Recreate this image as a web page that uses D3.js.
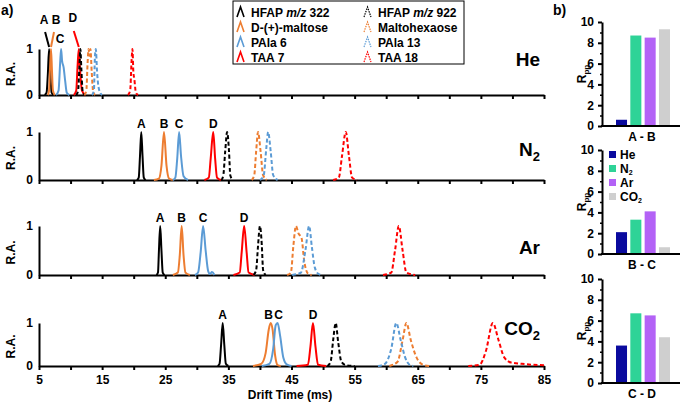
<!DOCTYPE html>
<html><head><meta charset="utf-8">
<script src="https://cdn.jsdelivr.net/npm/d3@7"></script>
<style>
html,body{margin:0;padding:0;background:#fff;}
text{font-family:"Liberation Sans",Arial,sans-serif;font-weight:bold;fill:#000;}
</style></head>
<body>
<svg id="c" width="685" height="406"></svg>
<script>
// ---------- DATA ----------
const gases = ["He", "N2", "Ar", "CO2"];
const xTicks = [5,10,15,20,25,30,35,40,45,50,55,60,65,70,75,80,85];
const xTickLabels = [5,15,25,35,45,55,65,75,85];
const seriesNames = ["HFAP m/z 322","D-(+)-maltose","PAla 6","TAA 7","HFAP m/z 922","Maltohexaose","PAla 13","TAA 18"];
const seriesColors = ["#000000","#ed7d31","#5b9bd5","#ff0000","#000000","#ed7d31","#5b9bd5","#ff0000"];
const seriesDashed = [false,false,false,false,true,true,true,true];

// peak traces [drift time ms, relative abundance], per gas (He, N2, Ar, CO2)
const hfap322 = [
  [[5.9,0],[6.2,0.05],[6.4,0.45],[6.6,1],[6.8,0.45],[7.0,0.05],[7.3,0]],
  [[20.5,0],[20.8,0.05],[21.0,0.5],[21.2,1],[21.4,0.5],[21.6,0.05],[21.9,0]],
  [[23.6,0],[23.85,0.05],[24.0,0.5],[24.2,1],[24.4,0.5],[24.6,0.05],[24.9,0]],
  [[33.3,0],[33.6,0.05],[33.85,0.5],[34.1,1],[34.35,0.5],[34.6,0.05],[35.0,0]]
];
const maltose = [
  [[6.4,0],[6.6,0.1],[6.75,0.6],[6.9,1],[7.05,0.55],[7.2,0.1],[7.5,0]],
  [[23.2,0],[24.0,0.03],[24.4,0.3],[24.8,1],[25.2,0.3],[25.6,0.03],[26.2,0]],
  [[26.2,0],[27.0,0.05],[27.3,0.4],[27.6,1],[27.9,0.4],[28.2,0.05],[28.9,0]],
  [[38.9,0],[40.2,0.05],[40.9,0.3],[41.4,0.85],[41.7,1],[42.0,0.85],[42.4,0.25],[42.8,0.02],[43.3,0]]
];
const pala6 = [
  [[7.7,0],[8.1,0.1],[8.35,0.7],[8.5,1],[8.65,0.75],[8.9,0.6],[9.15,0.3],[9.4,0.05],[9.8,0]],
  [[26.2,0],[26.6,0.05],[26.9,0.45],[27.2,1],[27.5,0.5],[27.9,0.08],[28.6,0]],
  [[29.7,0],[30.2,0.05],[30.6,0.45],[31.0,1],[31.4,0.5],[31.8,0.08],[32.1,0.02],[32.4,0.06],[32.8,0]],
  [[40.3,0],[41.5,0.05],[42.1,0.4],[42.5,0.95],[42.8,1],[43.2,0.7],[43.7,0.2],[44.3,0.03],[45.0,0]]
];
const taa7 = [
  [[10.5,0],[10.9,0.1],[11.1,0.6],[11.3,1],[11.5,0.55],[11.8,0.1],[12.3,0]],
  [[31.2,0],[31.9,0.05],[32.2,0.45],[32.6,1],[32.9,0.45],[33.2,0.05],[33.8,0]],
  [[35.8,0],[36.8,0.05],[37.1,0.45],[37.5,1],[37.9,0.45],[38.2,0.05],[39.2,0]],
  [[45.8,0],[47.6,0.03],[48.0,0.45],[48.4,1],[48.8,0.45],[49.2,0.03],[50.5,0]]
];
const hfap922 = [
  [[10.9,0],[11.2,0.1],[11.4,0.6],[11.55,1],[11.7,0.6],[11.9,0.1],[12.2,0]],
  [[33.9,0],[34.2,0.1],[34.5,0.6],[34.8,1],[35.1,0.6],[35.3,0.1],[35.7,0]],
  [[39.0,0],[39.4,0.1],[39.7,0.6],[40.0,1],[40.3,0.6],[40.5,0.1],[40.9,0]],
  [[50.7,0],[51.2,0.1],[51.6,0.6],[52.0,1],[52.4,0.55],[52.9,0.1],[53.6,0.02],[55.0,0]]
];
const maltohexaose = [
  [[12.2,0],[12.5,0.1],[12.7,0.7],[12.85,1],[13.0,0.85],[13.15,1],[13.35,0.5],[13.6,0.05],[13.9,0]],
  [[38.7,0],[39.1,0.1],[39.4,0.6],[39.7,1],[40.1,0.6],[40.5,0.1],[41.1,0]],
  [[44.3,0],[44.9,0.05],[45.3,0.6],[45.7,1],[46.1,0.85],[46.6,0.75],[47.0,0.3],[47.6,0.03],[48.2,0]],
  [[60.5,0],[61.8,0.1],[62.6,0.6],[63.2,1],[63.9,0.6],[64.8,0.2],[65.8,0.03],[66.8,0]]
];
const pala13 = [
  [[13.4,0],[13.7,0.1],[13.85,0.8],[14.0,1],[14.2,0.5],[14.4,0.2],[14.7,0.05],[15.0,0]],
  [[40.0,0],[40.6,0.1],[41.0,0.65],[41.3,1],[41.7,0.6],[42.1,0.1],[42.8,0]],
  [[45.1,0],[46.5,0.05],[47.2,0.5],[47.8,1],[48.2,0.6],[48.7,0.15],[49.3,0.02],[49.8,0]],
  [[58.7,0],[59.8,0.05],[60.8,0.4],[61.6,1],[62.3,0.6],[63.0,0.2],[63.7,0.03],[64.3,0]]
];
const taa18 = [
  [[19.1,0],[19.45,0.1],[19.65,0.7],[19.8,1],[19.95,0.5],[20.1,0.35],[20.35,0.05],[20.7,0]],
  [[51.6,0],[52.5,0.05],[53.0,0.5],[53.6,1],[54.1,0.5],[54.6,0.05],[55.4,0]],
  [[59.5,0],[60.8,0.05],[61.4,0.5],[62.0,1],[62.6,0.5],[63.2,0.05],[64.6,0]],
  [[73.0,0],[74.8,0.03],[75.8,0.35],[76.9,1],[77.8,0.6],[78.7,0.2],[79.8,0.08],[81.5,0.05],[83.0,0.03],[85.0,0.02]]
];
const allSeries = [hfap322, maltose, pala6, taa7, hfap922, maltohexaose, pala13, taa18];

// peak labels: which series (A=HFAP 322, B=maltose, C=PAla 6, D=TAA 7)
const peakLabels = ["A","B","C","D"];

// Rpp resolution bar charts
const pairs = ["A - B", "B - C", "C - D"];
const rppHe  = [0.6, 2.1, 3.6];
const rppN2  = [8.7, 3.3, 6.7];
const rppAr  = [8.5, 4.1, 6.5];
const rppCO2 = [9.3, 0.65, 4.4];
const gasColors = ["#0a0a9e", "#2ed397", "#b362f6", "#cfcfcf"];
const rppTicks = [0,2,4,6,8,10];
const rppMinor = [1,3,5,7,9];

// ---------- LAYOUT ----------
const svg = d3.select("#c");
const x = d3.scaleLinear().domain([5,85]).range([39,544]);
const panels = [{top:49,bottom:95},{top:132,bottom:180},{top:226,bottom:275},{top:323,bottom:366}];
const gasLabelY = [66, 156, 254, 335];

const line = d3.line().curve(d3.curveMonotoneX);

panels.forEach((p, gi) => {
  const y = d3.scaleLinear().domain([0,1]).range([p.bottom, p.top]);
  const g = svg.append("g");
  const isLast = gi === panels.length - 1;
  const xa = d3.axisBottom(x).tickValues(xTicks).tickSize(4).tickSizeOuter(0).tickPadding(5)
    .tickFormat(d => (isLast && xTickLabels.includes(d)) ? d : "");
  const gx = g.append("g").attr("transform", `translate(0,${p.bottom})`).call(xa);
  gx.select(".domain").attr("stroke-width", 2);
  gx.selectAll(".tick line").attr("stroke-width", 2);
  gx.selectAll("text").style("font-size","12px").style("font-family","Liberation Sans, Arial, sans-serif").style("font-weight","bold");
  const ya = d3.axisLeft(y).tickValues([0,1]).tickSize(0).tickPadding(6).tickFormat(d3.format("d"));
  const gy = g.append("g").attr("transform", `translate(${x(5)},0)`).call(ya);
  gy.select(".domain").attr("stroke-width", 2);
  gy.selectAll("text").style("font-size","12px").style("font-family","Liberation Sans, Arial, sans-serif").style("font-weight","bold");
  g.append("text").attr("transform", `translate(15,${(p.top+p.bottom)/2+2}) rotate(-90)`)
    .attr("text-anchor","middle").style("font-size","12px").text("R.A.");

  allSeries.forEach((s, si) => {
    g.append("path")
      .attr("d", line(s[gi].map(d => [x(d[0]), y(d[1])])))
      .attr("fill","none").attr("stroke", seriesColors[si]).attr("stroke-width", 2)
      .attr("stroke-linejoin","round")
      .attr("stroke-dasharray", seriesDashed[si] ? "4,2.5" : null);
  });

  const gl = g.append("text").attr("x", 540).attr("y", gasLabelY[gi]).attr("text-anchor","end").style("font-size","19px");
  const gname = gases[gi];
  const m = gname.match(/^([A-Za-z]+)(\d?)$/);
  gl.append("tspan").text(m[1]);
  if (m[2]) gl.append("tspan").attr("dy", 5).style("font-size","13px").text(m[2]);

  const peakTop = (si) => {
    const pts = allSeries[si][gi];
    const mx = pts.reduce((a,b) => b[1] > a[1] ? b : a);
    return mx[0];
  };
  if (gi === 0) {
    const offs = [[-5,-25,-4,-17],[5,-25,3,-17],[-1,-6,null,null],[-6,-27,-5,-18]];
    peakLabels.forEach((L, si) => {
      const px = x(peakTop(si));
      const o = offs[si];
      g.append("text").attr("x", px + o[0]).attr("y", p.top + o[1]).attr("text-anchor","middle").style("font-size","12px").text(L);
      if (o[2] !== null) {
        g.append("line").attr("x1", px + o[2]).attr("y1", p.top + o[3]).attr("x2", px).attr("y2", p.top - 2)
          .attr("stroke", seriesColors[si]).attr("stroke-width", 2);
      }
    });
  } else {
    peakLabels.forEach((L, si) => {
      let px = x(peakTop(si));
      if (gi === 3 && si === 1) px -= 2;
      if (gi === 3 && si === 2) px += 1;
      g.append("text").attr("x", px).attr("y", p.top - 4).attr("text-anchor","middle").style("font-size","12px").text(L);
    });
  }
});

svg.append("text").attr("x", 290).attr("y", 399).attr("text-anchor","middle").style("font-size","12px").text("Drift Time (ms)");
svg.append("text").attr("x", 1).attr("y", 15).style("font-size","14px").text("a)");
svg.append("text").attr("x", 553).attr("y", 15).style("font-size","14px").text("b)");

// legend
const lg = svg.append("g");
lg.append("rect").attr("x", 233).attr("y", 1).attr("width", 231).attr("height", 63).attr("fill","#fff").attr("stroke","#000").attr("stroke-width",1);
seriesNames.forEach((n, i) => {
  const col = i < 4 ? 0 : 1;
  const row = i % 4;
  const ix = col === 0 ? 237 : 364;
  const cy = 12 + row * 15;
  lg.append("path").attr("d", `M${ix},${cy+5}L${ix+3.5},${cy-5}L${ix+7},${cy+5}`)
    .attr("fill","none").attr("stroke", seriesColors[i]).attr("stroke-width", seriesDashed[i] ? 1.2 : 1.6)
    .attr("stroke-dasharray", seriesDashed[i] ? "1.5,1" : null);
  const t = lg.append("text").attr("x", ix + 14).attr("y", cy + 4.5).style("font-size","12px");
  const parts = n.split("m/z");
  if (parts.length === 2) {
    t.append("tspan").text(parts[0]);
    t.append("tspan").style("font-style","italic").text("m/z");
    t.append("tspan").text(parts[1]);
  } else t.text(n);
});

// ---------- BAR CHARTS ----------
const barTops = [22, 150, 279], barBottoms = [126, 254, 383];
const xb = d3.scaleBand().domain(gases).range([616, 670]).paddingInner(0.23).paddingOuter(0);
const gasVals = [rppHe, rppN2, rppAr, rppCO2];
pairs.forEach((pr, pi) => {
  const yb = d3.scaleLinear().domain([0,10]).range([barBottoms[pi], barTops[pi]]);
  const g = svg.append("g");
  g.selectAll("rect").data(gases).join("rect")
    .attr("x", d => xb(d)).attr("width", xb.bandwidth())
    .attr("y", (d,i) => yb(gasVals[i][pi]))
    .attr("height", (d,i) => yb(0) - yb(gasVals[i][pi]))
    .attr("fill", (d,i) => gasColors[i]);
  const gy = g.append("g").attr("transform", "translate(602,0)")
    .call(d3.axisLeft(yb).tickValues(rppTicks).tickSize(4).tickSizeOuter(0).tickPadding(4));
  gy.select(".domain").attr("stroke-width", 2);
  gy.selectAll(".tick line").attr("stroke-width", 2);
  gy.selectAll("text").style("font-size","12px").style("font-family","Liberation Sans, Arial, sans-serif").style("font-weight","bold");
  const gm = g.append("g").attr("transform", "translate(602,0)")
    .call(d3.axisLeft(yb).tickValues(rppMinor).tickSize(2).tickFormat(""));
  gm.select(".domain").remove();
  gm.selectAll(".tick line").attr("stroke-width", 1.5);
  g.append("line").attr("x1", 601).attr("x2", 680).attr("y1", yb(0)).attr("y2", yb(0)).attr("stroke","#000").attr("stroke-width",2);
  g.append("text").attr("x", 642).attr("y", yb(0) + 15).attr("text-anchor","middle").style("font-size","12px").text(pr);
  const rl = g.append("text").attr("transform", `translate(586,${(barTops[pi]+barBottoms[pi])/2}) rotate(-90)`).attr("text-anchor","middle").style("font-size","12px");
  rl.append("tspan").text("R");
  rl.append("tspan").attr("dy", 3).style("font-size","8px").text("pp");
});

// bar legend (in B - C chart)
gases.forEach((gname, i) => {
  const cy = 155 + i * 14;
  svg.append("rect").attr("x", 609).attr("y", cy - 4).attr("width", 7).attr("height", 7).attr("fill", gasColors[i]);
  const t = svg.append("text").attr("x", 620).attr("y", cy + 4).style("font-size","12px");
  const m = gname.match(/^([A-Za-z]+)(\d?)$/);
  t.append("tspan").text(m[1]);
  if (m[2]) t.append("tspan").attr("dy", 2).style("font-size","7px").text(m[2]);
});
</script>
</body></html>
